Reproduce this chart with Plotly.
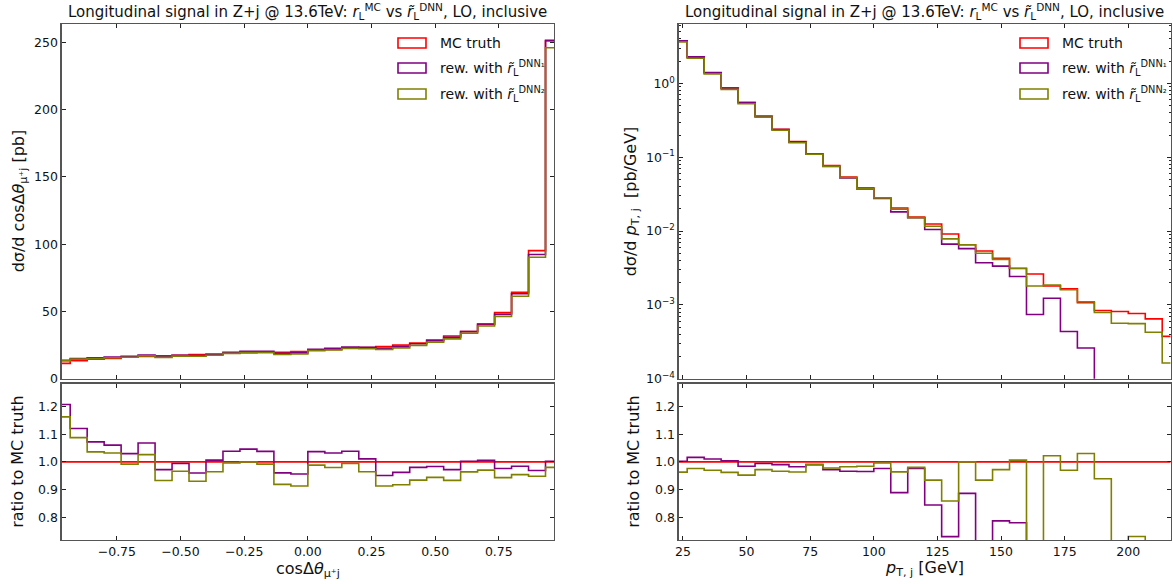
import numpy as np
import plotly.graph_objects as go

W, H = 1173, 584

# ---------------- data ----------------
# cos(Delta theta_{mu+ j}) : 30 bins between -1 and 1
cos_lo, cos_hi, cos_nbins = -1.0, 1.0, 30
cos_mc = [11.4, 13.4, 14.4, 15.1, 16.1, 16.5, 17.0, 17.4, 17.9, 18.1,
          18.9, 19.4, 19.6, 19.6, 20.1, 21.1, 21.8, 22.6, 23.1, 23.8,
          25.0, 26.5, 28.8, 31.7, 35.0, 40.4, 49.1, 64.2, 95.2, 251.0]
cos_dnn1 = [13.76, 15.01, 15.44, 16.01, 16.58, 17.62, 16.52, 17.30, 17.18, 18.21,
            19.62, 20.29, 20.34, 18.82, 19.22, 21.88, 22.50, 23.46, 23.35, 22.63,
            24.05, 25.97, 28.31, 30.81, 35.07, 40.64, 47.92, 63.17, 92.25, 251.5]
cos_dnn2 = [13.25, 14.57, 14.92, 15.58, 15.97, 16.93, 15.86, 16.81, 16.65, 17.45,
            18.82, 19.40, 19.44, 18.01, 18.35, 20.85, 21.36, 22.46, 22.27, 21.73,
            22.93, 24.75, 27.19, 29.58, 33.74, 39.19, 46.30, 61.25, 90.25, 245.98]

# p_T,j : 30 bins between 20 and 220 GeV
pt_lo, pt_hi, pt_nbins = 20.0, 220.0, 30
pt_mc = [3.78, 2.25, 1.39, 0.864, 0.557, 0.360, 0.240, 0.163, 0.111, 0.0771,
         0.0541, 0.0385, 0.0283, 0.0205, 0.0155, 0.01245, 0.00912, 0.00653, 0.00536, 0.00426,
         0.00311, 0.00262, 0.00181, 0.00165, 0.00107, 0.00084, 0.000813, 0.000764, 0.000646, 0.000374]
pt_dnn1 = [3.788, 2.286, 1.404, 0.8675, 0.5481, 0.3578, 0.2376, 0.1601, 0.1099, 0.07494,
           0.05226, 0.03715, 0.02762, 0.01822, 0.01513, 0.01051, 0.006658, 0.005786, 0.00372, 0.003353,
           0.002426, 0.00074, 0.00123, 0.000435, 0.000261, 0.0, 0.0, 0.0, 0.0, 0.0]
pt_dnn2 = [3.640, 2.196, 1.348, 0.8312, 0.5303, 0.3499, 0.2318, 0.1570, 0.1099, 0.07540,
           0.05313, 0.03788, 0.02819, 0.01976, 0.01519, 0.01163, 0.007834, 0.00653, 0.005006, 0.004141,
           0.003129, 0.00180, 0.00185, 0.00160, 0.001102, 0.000789, 0.000565, 0.000558, 0.000425, 0.000163]

series_names = ["MC truth",
                "rew. with <i>r\u0303</i><sub>L</sub><sup>DNN\u2081</sup>",
                "rew. with <i>r\u0303</i><sub>L</sub><sup>DNN\u2082</sup>"]
series_colors = ["#ff0000", "#800080", "#808000"]

cos_ticks = [-0.75, -0.5, -0.25, 0.0, 0.25, 0.5, 0.75]
pt_ticks = [25, 50, 75, 100, 125, 150, 175, 200]
ratio_ticks = [0.8, 0.9, 1.0, 1.1, 1.2]
log_major = [1e-4, 1e-3, 1e-2, 1e-1, 1e0]
log_major_text = ["10<sup>\u22124</sup>", "10<sup>\u22123</sup>", "10<sup>\u22122</sup>",
                  "10<sup>\u22121</sup>", "10<sup>0</sup>"]

title_text = ("Longitudinal signal in Z+j @ 13.6TeV: <i>r</i><sub>L</sub><sup>MC</sup> vs "
              "<i>r\u0303</i><sub>L</sub><sup>DNN</sup>, LO, inclusive")

# ---------------- helpers ----------------
def centers(lo, hi, n):
    e = np.linspace(lo, hi, n + 1)
    return 0.5 * (e[:-1] + e[1:])

cos_c = centers(cos_lo, cos_hi, cos_nbins)
pt_c = centers(pt_lo, pt_hi, pt_nbins)

def fx(px):
    return px / W

def fy(py):
    return 1 - py / H

FONT = "DejaVu Sans"
LW = 1.6
AXC = "#555555"

# panel geometry (pixels)
L_X0, L_X1 = 61.7, 554.0
R_X0, R_X1 = 678.7, 1170.7
M_Y0, M_Y1 = 24.0, 378.7
R_Y0, R_Y1 = 383.7, 540.0

fig = go.Figure()

def add_hist(x, vals, color, xa, ya, log=False):
    v = np.asarray(vals, dtype=float)
    if log:
        v = np.where(v > 0, v, 1e-12)
    fig.add_trace(go.Scatter(x=x, y=v, mode="lines", xaxis=xa, yaxis=ya,
                             line=dict(shape="hvh", color=color, width=LW),
                             showlegend=False, hoverinfo="skip"))

cos_series = [cos_mc, cos_dnn1, cos_dnn2]
pt_series = [pt_mc, pt_dnn1, pt_dnn2]
for s, c in zip(cos_series, series_colors):
    add_hist(cos_c, s, c, "x", "y")
    add_hist(cos_c, np.asarray(s) / np.asarray(cos_mc), c, "x3", "y3")
for s, c in zip(pt_series, series_colors):
    add_hist(pt_c, s, c, "x2", "y2", log=True)
    add_hist(pt_c, np.asarray(s) / np.asarray(pt_mc), c, "x4", "y4")

common = dict(showline=True, linecolor=AXC, linewidth=1.3, mirror="allticks",
              ticks="inside", ticklen=4, tickwidth=1, tickcolor="#222222",
              showgrid=False, zeroline=False, automargin=False,
              tickfont=dict(family=FONT, size=12.5, color="#111111"))

cos_range = [cos_c[0], cos_c[-1]]
pt_range = [pt_c[0], pt_c[-1]]
ratio_range = [0.718, 1.282]

minor_vals = [m * d for d in [1e-4, 1e-3, 1e-2, 1e-1, 1e0] for m in range(2, 10)]

fig.update_layout(
    width=W, height=584, margin=dict(l=0, r=0, t=0, b=0),
    paper_bgcolor="white", plot_bgcolor="white",
    font=dict(family=FONT, color="#111111"),
    xaxis=dict(domain=[fx(L_X0), fx(L_X1)], range=cos_range, anchor="y",
               tickvals=cos_ticks, showticklabels=False, **common),
    yaxis=dict(domain=[fy(M_Y1), fy(M_Y0)], range=[0, 263.6], anchor="x",
               tickvals=[0, 50, 100, 150, 200, 250], **common),
    xaxis3=dict(domain=[fx(L_X0), fx(L_X1)], range=cos_range, anchor="y3",
                tickvals=cos_ticks, tickformat=".2f", **common),
    yaxis3=dict(domain=[fy(R_Y1), fy(R_Y0)], range=ratio_range, anchor="x3",
                tickvals=ratio_ticks, tickformat=".1f", **common),
    xaxis2=dict(domain=[fx(R_X0), fx(R_X1)], range=pt_range, anchor="y2",
                tickvals=pt_ticks, showticklabels=False, **common),
    yaxis2=dict(domain=[fy(M_Y1), fy(M_Y0)], type="log", range=[-4, 0.805], anchor="x2",
                tickvals=log_major, ticktext=log_major_text,
                minor=dict(tickvals=minor_vals, ticks="inside", ticklen=2,
                           tickcolor="#222222", showgrid=False),
                **common),
    xaxis4=dict(domain=[fx(R_X0), fx(R_X1)], range=pt_range, anchor="y4",
                tickvals=pt_ticks, **common),
    yaxis4=dict(domain=[fy(R_Y1), fy(R_Y0)], range=ratio_range, anchor="x4",
                tickvals=ratio_ticks, tickformat=".1f", **common),
)

ann = []
shapes = []

# titles
for cx in [(L_X0 + L_X1) / 2, (R_X0 + R_X1) / 2]:
    ann.append(dict(x=fx(cx), y=fy(12), xref="paper", yref="paper", text=title_text,
                    showarrow=False, xanchor="center", yanchor="middle",
                    font=dict(family=FONT, size=15, color="#111111")))

# axis titles
def ytitle(text, px, py):
    ann.append(dict(x=fx(px), y=fy(py), xref="paper", yref="paper", text=text,
                    textangle=-90, showarrow=False, xanchor="center", yanchor="middle",
                    font=dict(family=FONT, size=16, color="#111111")))

def xtitle(text, px, py):
    ann.append(dict(x=fx(px), y=fy(py), xref="paper", yref="paper", text=text,
                    showarrow=False, xanchor="center", yanchor="middle",
                    font=dict(family=FONT, size=16, color="#111111")))

ytitle("d\u03c3/d cos\u0394<i>\u03b8</i><sub>\u03bc\u207aj</sub> [pb]", 19, (M_Y0 + M_Y1) / 2)
ytitle("ratio to MC truth", 18, (R_Y0 + R_Y1) / 2)
ytitle("d\u03c3/d <i>p</i><sub>T, j</sub>  [pb/GeV]", 631, (M_Y0 + M_Y1) / 2)
ytitle("ratio to MC truth", 634, (R_Y0 + R_Y1) / 2)
xtitle("cos\u0394<i>\u03b8</i><sub>\u03bc\u207aj</sub>", (L_X0 + L_X1) / 2, 569)
xtitle("<i>p</i><sub>T, j</sub> [GeV]", (R_X0 + R_X1) / 2, 568)

# legends (drawn manually as outlined patches like the histogram legend)
rows = [43, 68, 94]
for patch_x0, text_x in [(398, 438), (1020, 1060)]:
    for name, color, ry in zip(series_names, series_colors, rows):
        shapes.append(dict(type="rect", xref="paper", yref="paper",
                           x0=fx(patch_x0), x1=fx(patch_x0 + 28),
                           y0=fy(ry + 5), y1=fy(ry - 5),
                           line=dict(color=color, width=LW), fillcolor="rgba(0,0,0,0)"))
        ann.append(dict(x=fx(text_x), y=fy(ry), xref="paper", yref="paper", text=name,
                        showarrow=False, xanchor="left", yanchor="middle",
                        font=dict(family=FONT, size=14, color="#111111")))

fig.update_layout(annotations=ann, shapes=shapes)
fig.write_html("out.html", config={"displayModeBar": False, "staticPlot": True},
               post_script="document.body.style.margin='0';document.body.style.overflow='hidden';")
